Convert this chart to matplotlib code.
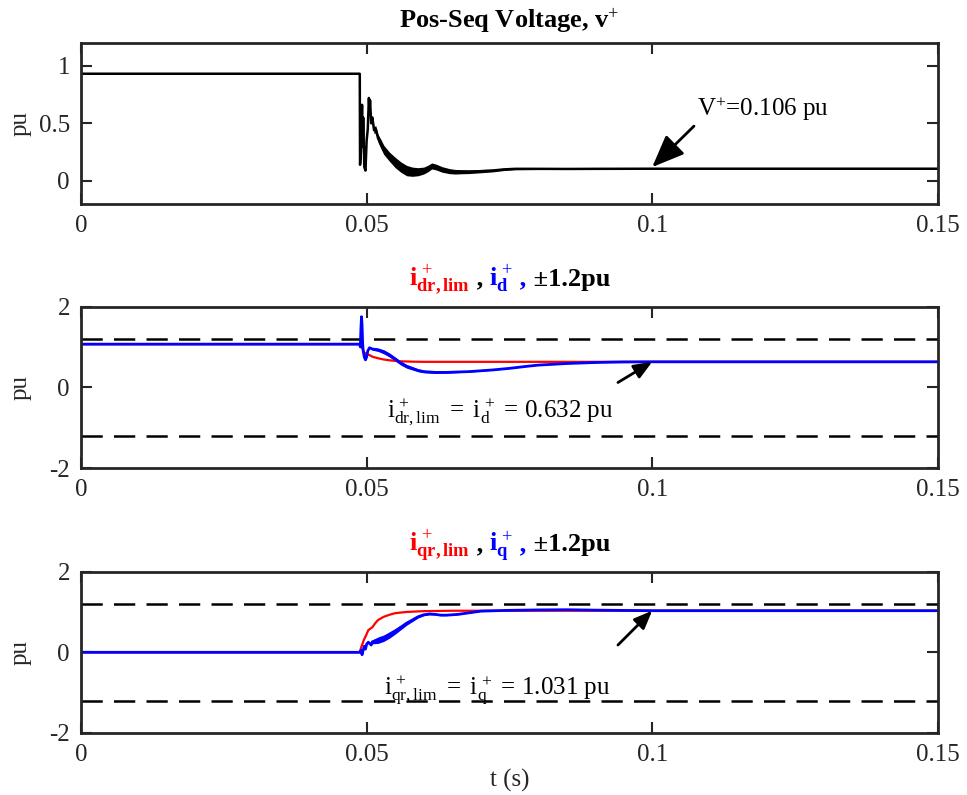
import numpy as np
import matplotlib
matplotlib.use("Agg")
import matplotlib.pyplot as plt
from matplotlib.offsetbox import TextArea, HPacker, AnchoredOffsetbox

plt.rcParams['font.family'] = ['Liberation Serif', 'DejaVu Serif']
plt.rcParams['mathtext.fontset'] = 'custom'
plt.rcParams['mathtext.rm'] = 'Liberation Serif'
plt.rcParams['mathtext.it'] = 'Liberation Serif:italic'
plt.rcParams['mathtext.bf'] = 'Liberation Serif:bold'

FS = 18
FS_T = 19
DARK = '#262626'

# ---- positive-sequence voltage (pu) ----
t_v = [0, 0.0488, 0.04885, 0.0490, 0.0492, 0.0493, 0.0494, 0.0496, 0.0498, 0.0500,
       0.0502, 0.0504, 0.0505, 0.0506, 0.0508, 0.0510, 0.0513, 0.0516, 0.0520,
       0.0525, 0.0530, 0.0540, 0.0550, 0.0560, 0.0570, 0.0580, 0.0590, 0.0600,
       0.0608, 0.0614, 0.0622, 0.0632, 0.0645, 0.0655, 0.0665, 0.0680, 0.0700,
       0.0720, 0.0740, 0.0760, 0.0780, 0.0800, 0.0850, 0.0900, 0.1000, 0.1500]
v_pos = [0.93, 0.93, 0.14, 0.25, 0.66, 0.30, 0.55, 0.12, 0.09, 0.35,
         0.45, 0.72, 0.60, 0.70, 0.50, 0.55, 0.44, 0.45, 0.37,
         0.32, 0.27, 0.21, 0.16, 0.12, 0.09, 0.08, 0.08, 0.09,
         0.11, 0.13, 0.12, 0.10, 0.085, 0.08, 0.08, 0.08, 0.085,
         0.09, 0.10, 0.105, 0.105, 0.105, 0.104, 0.105, 0.106, 0.106]
v_rip = [0, 0, 0, 0, 0, 0, 0, 0, 0, 0,
         0, 0, 0, 0, 0, 0.02, 0.03, 0.03, 0.035,
         0.04, 0.04, 0.04, 0.045, 0.045, 0.045, 0.04, 0.035, 0.03,
         0.028, 0.026, 0.025, 0.024, 0.022, 0.02, 0.018, 0.016, 0.014,
         0.012, 0.01, 0.008, 0.007, 0.006, 0.004, 0.003, 0.002, 0.002]

# ---- d-axis currents (pu) ----
t_dr = [0, 0.0488, 0.0492, 0.0496, 0.0500, 0.0505, 0.0510, 0.0520, 0.0530,
        0.0540, 0.0550, 0.0560, 0.0580, 0.0600, 0.1500]
i_dr = [1.07, 1.07, 0.98, 0.86, 0.82, 0.80, 0.76, 0.72, 0.69,
        0.67, 0.655, 0.645, 0.636, 0.632, 0.632]

t_d = [0, 0.0488, 0.0489, 0.0490, 0.0491, 0.0492, 0.0493, 0.0494, 0.0496, 0.0498,
       0.0500, 0.0502, 0.0505, 0.0510, 0.0520, 0.0530, 0.0540, 0.0550, 0.0560,
       0.0570, 0.0580, 0.0590, 0.0600, 0.0620, 0.0640, 0.0660, 0.0680, 0.0700,
       0.0720, 0.0750, 0.0780, 0.0800, 0.0850, 0.0900, 0.0950, 0.1000, 0.1500]
i_d = [1.07, 1.07, 1.0, 1.45, 1.75, 1.55, 1.10, 0.90, 0.75, 0.68,
       0.75, 0.90, 0.98, 0.95, 0.93, 0.88, 0.80, 0.70, 0.60,
       0.52, 0.47, 0.42, 0.39, 0.37, 0.37, 0.38, 0.39, 0.41,
       0.43, 0.47, 0.52, 0.55, 0.59, 0.615, 0.628, 0.632, 0.632]
d_rip = [0, 0, 0, 0, 0, 0, 0, 0, 0, 0,
         0, 0, 0, 0.03, 0.04, 0.05, 0.05, 0.05, 0.05,
         0.045, 0.04, 0.035, 0.03, 0.025, 0.02, 0.015, 0.012, 0.01,
         0.008, 0.006, 0.005, 0.004, 0.003, 0.002, 0.002, 0.002, 0.002]

# ---- q-axis currents (pu) ----
t_qr = [0, 0.0488, 0.0490, 0.0495, 0.0500, 0.0503, 0.0510, 0.0515, 0.0520,
        0.0530, 0.0540, 0.0550, 0.0570, 0.0600, 0.0650, 0.1500]
i_qr = [0, 0, 0.10, 0.30, 0.45, 0.55, 0.62, 0.72, 0.80,
        0.88, 0.93, 0.97, 1.00, 1.02, 1.03, 1.031]

t_q = [0, 0.0488, 0.0490, 0.0492, 0.0494, 0.0496, 0.0498, 0.0500, 0.0503, 0.0508,
       0.0510, 0.0520, 0.0530, 0.0540, 0.0550, 0.0560, 0.0570, 0.0580, 0.0590,
       0.0600, 0.0610, 0.0620, 0.0630, 0.0640, 0.0660, 0.0680, 0.0700, 0.0750,
       0.0800, 0.0850, 0.0900, 0.1000, 0.1500]
i_q = [0, 0, 0.05, -0.06, 0.05, 0.15, 0.08, 0.20, 0.25, 0.18,
       0.26, 0.30, 0.35, 0.43, 0.52, 0.62, 0.72, 0.80, 0.88,
       0.93, 0.95, 0.94, 0.92, 0.92, 0.94, 0.98, 1.02, 1.04,
       1.05, 1.055, 1.045, 1.031, 1.031]
q_rip = [0, 0, 0, 0, 0, 0, 0, 0, 0, 0,
         0.05, 0.08, 0.08, 0.08, 0.07, 0.06, 0.05, 0.04, 0.03,
         0.025, 0.02, 0.015, 0.012, 0.01, 0.008, 0.006, 0.005, 0.004,
         0.003, 0.003, 0.003, 0.003, 0.003]

I_LIM = 1.2
x_ticks = [0, 0.05, 0.1, 0.15]
x_labels = ['0', '0.05', '0.1', '0.15']

ARROW = dict(arrowstyle='-|>,head_length=1.1,head_width=0.45',
             color='black', lw=2, shrinkA=0, shrinkB=0)


def style_axes(ax, yticks, ylabels, ylim):
    ax.set_xlim(0, 0.15)
    ax.set_ylim(*ylim)
    ax.set_xticks(x_ticks)
    ax.set_xticklabels(x_labels)
    ax.set_yticks(yticks)
    ax.set_yticklabels(ylabels)
    ax.tick_params(direction='in', length=8, width=1.5, top=True, right=True,
                   labelsize=FS, colors=DARK, pad=8)
    for s in ax.spines.values():
        s.set_linewidth(2)
        s.set_color(DARK)
    ax.set_ylabel('pu', fontsize=FS, color=DARK)
    ax.yaxis.set_label_coords(-0.058, 0.5)


def band(ax, t, y, r, color):
    t = np.asarray(t)
    y = np.asarray(y)
    r = np.asarray(r)
    ax.fill_between(t, y - r, y + r, color=color, lw=0)


def multi_title(ax, parts, y_off):
    boxes = [TextArea(s, textprops=dict(color=c, fontsize=FS_T, fontweight='bold'))
             for s, c in parts]
    pack = HPacker(children=boxes, align='baseline', pad=0, sep=0)
    ab = AnchoredOffsetbox(loc='lower center', child=pack, pad=0, borderpad=0,
                           frameon=False, bbox_to_anchor=(0.5, 1.0 + y_off),
                           bbox_transform=ax.transAxes)
    ax.add_artist(ab)


fig = plt.figure(figsize=(9.67, 7.95), dpi=100)
left, width, h = 0.0838, 0.886, 0.203
ax1 = fig.add_axes([left, 0.7434, width, h])
ax2 = fig.add_axes([left, 0.4113, width, h])
ax3 = fig.add_axes([left, 0.078, width, h])

# panel 1
band(ax1, t_v, v_pos, v_rip, 'black')
ax1.plot(t_v, v_pos, color='black', lw=1.8)
style_axes(ax1, [0, 0.5, 1], ['0', '0.5', '1'], (-0.2, 1.2))
ax1.set_title(r'Pos-Seq Voltage, $\mathbf{v}^{+}$', fontsize=FS_T, fontweight='bold',
              color='black', pad=10)
ax1.annotate(r'$\mathrm{V}^{+}$=0.106 pu', xy=(0.1, 0.12), xytext=(0.1078, 0.56),
             fontsize=FS, color='black', va='baseline',
             arrowprops=dict(ARROW, relpos=(0.0, 0.0)))

# panel 2
for yl in (I_LIM, -I_LIM):
    ax2.axhline(yl, color='black', lw=1.8, ls=(0, (8.5, 4.5)))
ax2.plot(t_dr, i_dr, color='red', lw=1.6)
band(ax2, t_d, i_d, d_rip, 'blue')
ax2.plot(t_d, i_d, color='blue', lw=2)
style_axes(ax2, [-2, 0, 2], ['-2', '0', '2'], (-2, 2))
multi_title(ax2, [(r'$\mathbf{i}^{\,+}_{\mathbf{dr,lim}}$', 'red'), (' , ', 'black'),
                  (r'$\mathbf{i}^{\,+}_{\mathbf{d}}$', 'blue'), (' ,', 'blue'),
                  (' \u00b11.2pu', 'black')], 0.06)
ax2.annotate('', xy=(0.1, 0.632), xytext=(0.094, 0.12), arrowprops=ARROW)
ax2.text(0.0535, -0.62,
         r'$\mathrm{i}^{\,+}_{\mathrm{dr,lim}}\ =\ \mathrm{i}^{\,+}_{\mathrm{d}}$ = 0.632 pu',
         fontsize=FS, color='black', va='center')

# panel 3
for yl in (I_LIM, -I_LIM):
    ax3.axhline(yl, color='black', lw=1.8, ls=(0, (8.5, 4.5)))
ax3.plot(t_qr, i_qr, color='red', lw=1.6)
band(ax3, t_q, i_q, q_rip, 'blue')
ax3.plot(t_q, i_q, color='blue', lw=2)
style_axes(ax3, [-2, 0, 2], ['-2', '0', '2'], (-2, 2))
multi_title(ax3, [(r'$\mathbf{i}^{\,+}_{\mathbf{qr,lim}}$', 'red'), (' , ', 'black'),
                  (r'$\mathbf{i}^{\,+}_{\mathbf{q}}$', 'blue'), (' ,', 'blue'),
                  (' \u00b11.2pu', 'black')], 0.05)
ax3.annotate('', xy=(0.1, 1.031), xytext=(0.094, 0.18), arrowprops=ARROW)
ax3.text(0.0530, -0.95,
         r'$\mathrm{i}^{\,+}_{\mathrm{qr,lim}}\ =\ \mathrm{i}^{\,+}_{\mathrm{q}}$ = 1.031 pu',
         fontsize=FS, color='black', va='center')
ax3.set_xlabel('t (s)', fontsize=FS, color=DARK, labelpad=2)

fig.savefig('out.png', dpi=100)
